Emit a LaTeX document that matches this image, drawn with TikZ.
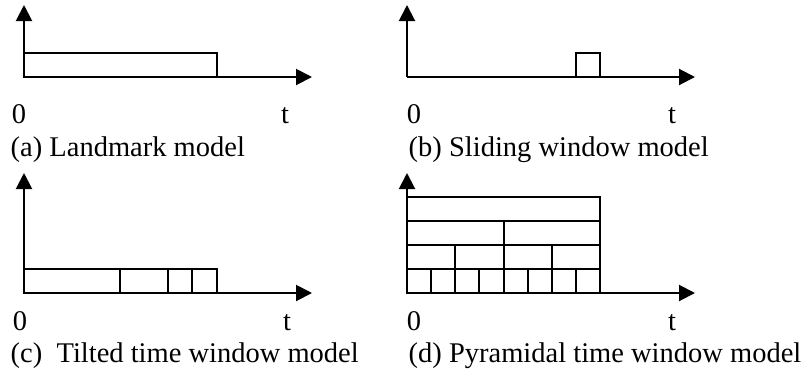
\documentclass[tikz,border=0pt]{standalone}
\usepackage{fontspec}
\setmainfont{Liberation Serif}
\usetikzlibrary{arrows.meta}
\begin{document}
\begin{tikzpicture}[x=1pt,y=-1pt,
  axis/.style={line width=2pt,-{Triangle[length=16pt,width=16pt]}},
  win/.style={line width=2pt},
  lbl/.style={inner sep=0pt,anchor=base,font=\fontsize{28.5pt}{32pt}\selectfont},
  captext/.style={inner sep=0pt,anchor=base west,font=\fontsize{28.5pt}{32pt}\selectfont}]
\useasboundingbox (0,0) rectangle (810,378);
% (a) Landmark
\coordinate (ao) at (24,77);
\coordinate (ay) at (24,5);
\coordinate (ax) at (312,77);
\draw[win] (24,53) rectangle (217,77);
\draw[axis] (ao) -- (ay);
\draw[axis] (ao) -- (ax);
\node[lbl] (a0) at (19,123) {0};
\node[lbl] (at) at (285,123) {t};
\node[captext] (acap) at (10.5,156) {(a) Landmark model};
% (b) Sliding window
\coordinate (bo) at (407,77);
\coordinate (by) at (407,5);
\coordinate (bx) at (695,77);
\draw[win] (576,77) -- (576,53) -- (600,53) -- (600,77);
\draw[axis] (bo) -- (by);
\draw[axis] (bo) -- (bx);
\node[lbl] (b0) at (414,123) {0};
\node[lbl] (bt) at (672,123) {t};
\node[captext] (bcap) at (408.5,156) {(b) Sliding window model};
% (c) Tilted time window
\coordinate (co) at (24,293);
\coordinate (cy) at (24,173);
\coordinate (cx) at (312,293);
\draw[win] (24,269) rectangle (217,293);
\foreach \xx in {120,168,192} \draw[win] (\xx,269) -- (\xx,293);
\draw[axis] (co) -- (cy);
\draw[axis] (co) -- (cx);
\node[lbl] (c0) at (20,330) {0};
\node[lbl] (ct) at (287,330) {t};
\node[captext] (ccap) at (10.5,362) {(c)\ \ Tilted time window model};
% (d) Pyramidal time window
\coordinate (do) at (407,293);
\coordinate (dy) at (407,173);
\coordinate (dx) at (695,293);
\draw[win] (407,197) rectangle (600,293);
\foreach \yy in {221,245,269} \draw[win] (407,\yy) -- (600,\yy);
\draw[win] (503.5,221) -- (503.5,245);
\foreach \xx in {455.25,503.5,551.75} \draw[win] (\xx,245) -- (\xx,269);
\foreach \xx in {431.1,455.25,479.4,503.5,527.6,551.75,575.9} \draw[win] (\xx,269) -- (\xx,293);
\draw[axis] (do) -- (dy);
\draw[axis] (do) -- (dx);
\node[lbl] (d0) at (414,330) {0};
\node[lbl] (dt) at (672,330) {t};
\node[captext] (dcap) at (408.5,362) {(d) Pyramidal time window model};
\end{tikzpicture}
\end{document}
